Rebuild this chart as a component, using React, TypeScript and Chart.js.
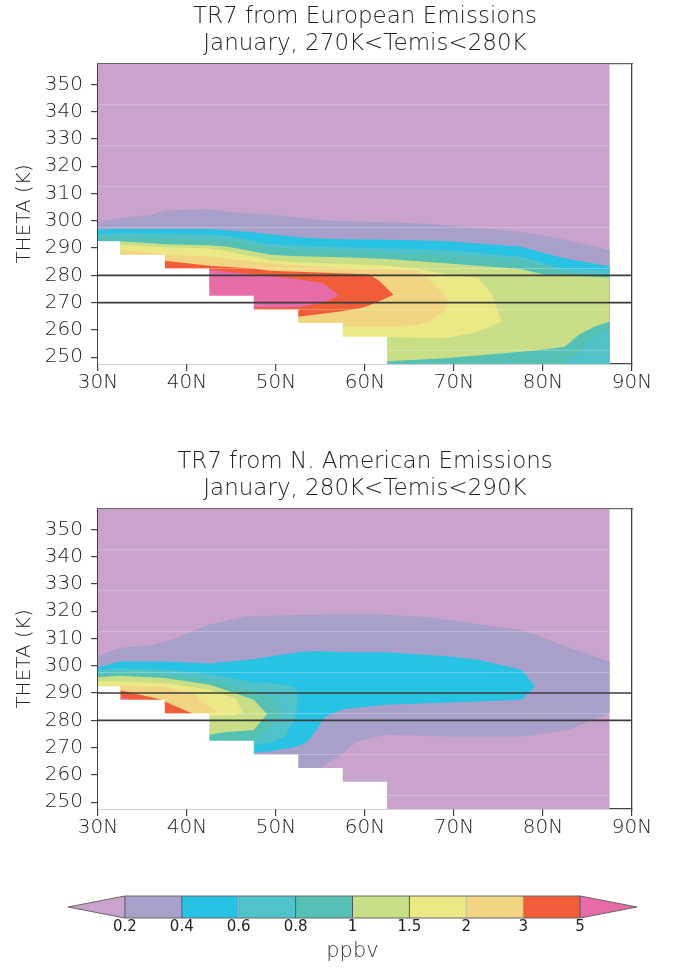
import React, { useEffect, useRef } from 'react';
import { Chart, registerables } from 'chart.js';

Chart.register(...registerables);

const FONT = "'DejaVu Sans ExtraLight', 'DejaVu Sans', sans-serif";

// ---------- axes ----------
const latTicks = [30, 40, 50, 60, 70, 80, 90];
const thetaTicks = [250, 260, 270, 280, 290, 300, 310, 320, 330, 340, 350];
const latMin = 30;
const latMax = 90;
const thetaMin = 247.5;
const thetaMax = 357.5;

// ---------- contour levels ----------
const levelLabels = ['0.2', '0.4', '0.6', '0.8', '1', '1.5', '2', '3', '5'];
const bandColors = ['#C9A3CB', '#A8A0CB', '#28C2E4', '#50C3CA', '#55C1B5', '#C9DF87', '#EBE985', '#F1D583', '#F15D39', '#E66BA7'];
const separatorColors = ['#555', '#555', 'rgba(60,60,60,0.25)', '#555', '#555', '#555', 'rgba(60,60,60,0.25)', 'rgba(60,60,60,0.25)', '#555'];

// ---------- data domain (missing data below the staircase, none beyond 87.5N) ----------
const domainLat = [30, 87.5];
const domainTop = [357.5, 357.5];
const maskLat = [30, 32.5, 32.5, 37.5, 37.5, 42.5, 42.5, 47.5, 47.5, 52.5, 52.5, 57.5, 57.5, 62.5, 62.5];
const maskTheta = [292.5, 292.5, 287.5, 287.5, 282.5, 282.5, 272.5, 272.5, 267.5, 267.5, 262.5, 262.5, 257.5, 257.5, 247.5];
const seamTheta = [252.5, 267.5, 282.5, 297.5, 312.5, 327.5, 342.5];

// ---------- European emissions (270K<Temis<280K) ----------
const euTitle = ['TR7 from European Emissions', 'January, 270K<Temis<280K'];
const euMarks = [280, 270];

const euLat02 = [30, 32.5, 36, 37.5, 42.5, 45.5, 50, 56, 62.5, 67.5, 77.5, 82.5, 87.5];
const euTop02 = [299.7, 300.9, 302.3, 303.8, 304.3, 302.9, 302.0, 300.0, 299.5, 298.8, 296.0, 293.0, 289.3];

const euLat04 = [30, 32.5, 42.5, 46.7, 52.7, 56, 62.5, 69, 77.5, 80.2, 82.4, 87.5];
const euTop04 = [296.8, 297.0, 297.0, 296.0, 294.0, 293.3, 293.0, 292.6, 290.5, 288.1, 286.3, 283.2];

const euLat06 = [30, 32.5, 42.5, 44.6, 49.4, 60.5, 69.3, 77.5, 80.2, 82.4, 87.5];
const euTop06 = [295.1, 295.5, 295.0, 294.5, 291.4, 290.0, 289.3, 286.8, 284.4, 282.2, 281.8];

const euLat08 = [30, 32.5, 37.5, 42.5, 44.6, 49.4, 52.5, 57.5, 60.5, 62.5, 69.5, 77.5, 80.2, 82.4, 83, 84.5, 86, 87.5];
const euTop08 = [293.8, 294.0, 293.7, 293.5, 293.0, 290.0, 289.6, 288.8, 288.2, 288.0, 287.5, 285.5, 283.0, 281.0, 280.8, 280.6, 280.5, 280.5];
const euBot08 = [247.5, 247.5, 247.5, 247.5, 247.5, 247.5, 247.5, 247.5, 247.5, 247.5, 247.5, 247.5, 247.5, 247.5, 249.0, 253.0, 258.0, 260.0];

const euLat10 = [32.5, 37.5, 42.5, 44.6, 49.4, 52.5, 57.5, 60.5, 62.5, 69, 77.5, 80.2, 82.4, 84, 85.8, 87.5];
const euTop10 = [292.5, 291.4, 291.0, 290.5, 287.5, 287.0, 286.6, 286.3, 286.0, 284.4, 282.3, 280.2, 280.2, 279.8, 279.5, 279.2];
const euBot10 = [247.5, 247.5, 247.5, 247.5, 247.5, 247.5, 247.5, 247.5, 248.5, 249.6, 252.0, 252.8, 253.8, 258.1, 261.2, 263.0];

const euLat15 = [32.5, 37.5, 42.5, 44.6, 49.4, 52.5, 57.5, 62.5, 66, 69, 72.7, 74.3, 75.0, 75.3];
const euTop15 = [291.2, 290.3, 289.8, 288.7, 285.5, 284.8, 284.2, 283.5, 282.3, 280.5, 279.0, 272.8, 266.0, 263.0];
const euBot15 = [247.5, 247.5, 247.5, 247.5, 247.5, 247.5, 247.5, 257.3, 257.2, 256.9, 259.3, 261.5, 262.5, 263.0];

const euLat20 = [32.5, 37.5, 42.5, 47.5, 52.5, 57.5, 62.5, 66.1, 67.5, 69.1, 69.3];
const euTop20 = [289.5, 287.7, 286.8, 285.0, 283.6, 282.8, 282.3, 281.8, 277.5, 272.2, 269.8];
const euBot20 = [247.5, 247.5, 247.5, 247.5, 247.5, 261.2, 261.2, 261.8, 263.5, 267.3, 269.8];

const euLat30 = [37.5, 42.5, 47.5, 49.3, 52.5, 57.2, 59.6, 60.5, 61.6, 63.2];
const euTop30 = [285.3, 283.5, 282.5, 281.7, 281.3, 280.8, 280.5, 280.3, 278.0, 272.9];
const euBot30 = [247.5, 247.5, 247.5, 247.5, 264.8, 266.7, 268.0, 269.0, 270.5, 272.9];

const euLat50 = [42.5, 47.4, 47.6, 52.5, 55.3, 57.1];
const euTop50 = [282.0, 280.4, 280.3, 278.6, 277.2, 272.5];
const euBot50 = [247.5, 247.5, 268.2, 268.3, 270.0, 272.5];

// ---------- N. American emissions (280K<Temis<290K) ----------
const naTitle = ['TR7 from N. American Emissions', 'January, 280K<Temis<290K'];
const naMarks = [290, 280];

const naLat02 = [30, 32.4, 35.8, 38.4, 42.4, 46.7, 52.7, 54.6, 55.0, 57.3, 59.2, 62.4, 67.3, 69.5, 77.7, 82.8, 87.5];
const naTop02 = [303.7, 306.5, 307.5, 309.6, 315.1, 318.1, 318.7, 318.7, 318.7, 318.8, 318.8, 318.7, 317.8, 316.8, 313.0, 306.8, 301.6];
const naBot02 = [247.5, 247.5, 247.5, 247.5, 247.5, 247.5, 247.5, 247.5, 262.5, 267.4, 272.3, 274.7, 274.3, 274.1, 274.1, 276.5, 282.7];

const naLat04 = [30, 32.4, 37.7, 42.4, 47.4, 47.6, 49.3, 52.5, 53.6, 54.7, 55.6, 57.5, 62.4, 69.5, 72.7, 77.6, 79.1];
const naTop04 = [299.4, 301.6, 301.6, 300.8, 302.4, 302.5, 303.4, 305.0, 305.2, 305.3, 305.2, 305.0, 305.0, 303.4, 302.2, 298.5, 292.4];
const naBot04 = [247.5, 247.5, 247.5, 247.5, 247.5, 268.2, 268.6, 270.4, 272.3, 277.2, 281.4, 284.1, 285.7, 286.5, 286.9, 287.5, 292.4];

const naLat06 = [30, 32.5, 37.5, 42.5, 47.4, 47.6, 49.3, 51.0, 52.1, 52.5];
const naTop06 = [298.5, 299.1, 298.5, 297.1, 294.0, 293.9, 293.6, 293.0, 292.2, 288.8];
const naBot06 = [247.5, 247.5, 247.5, 247.5, 247.5, 271.0, 271.7, 274.1, 280.2, 288.8];

const naLat08 = [30, 32.5, 37.5, 42.5, 47.4, 47.6, 49.3, 50.8];
const naTop08 = [297.3, 297.9, 297.1, 294.9, 290.8, 290.6, 288.8, 282.0];
const naBot08 = [247.5, 247.5, 247.5, 247.5, 247.5, 273.0, 277.8, 282.0];

const naLat10 = [30, 32.5, 37.5, 42.4, 42.5, 44.0, 47.5, 49.0];
const naTop10 = [295.8, 296.3, 295.5, 293.1, 293.0, 291.5, 287.5, 282.3];
const naBot10 = [247.5, 247.5, 247.5, 247.5, 274.7, 275.5, 276.5, 282.3];

const naLat15 = [30, 32.5, 37.5, 42.4, 42.5, 45.4, 46.3];
const naTop15 = [294.3, 294.3, 293.6, 291.3, 291.2, 288.1, 283.0];
const naBot15 = [247.5, 247.5, 247.5, 247.5, 281.5, 282.0, 283.0];

const naLat20 = [30, 32.5, 37.5, 40.9, 42.4, 42.5, 43.5];
const naTop20 = [292.0, 292.7, 292.2, 289.4, 285.0, 284.8, 283.0];
const naBot20 = [247.5, 247.5, 247.5, 247.5, 247.5, 282.5, 283.0];

const naLat30 = [32.5, 37.2, 37.5, 40.6];
const naTop30 = [291.0, 287.5, 286.9, 282.5];

const naLat50 = [32.5, 33.6];
const naTop50 = [288.6, 287.5];

type Region = { lat: number[]; top: number[]; bot?: number[]; band: number };

const euRegions: Region[] = [
  { lat: domainLat, top: domainTop, band: 0 },
  { lat: euLat02, top: euTop02, band: 1 },
  { lat: euLat04, top: euTop04, band: 2 },
  { lat: euLat06, top: euTop06, band: 3 },
  { lat: euLat08, top: euTop08, bot: euBot08, band: 4 },
  { lat: euLat10, top: euTop10, bot: euBot10, band: 5 },
  { lat: euLat15, top: euTop15, bot: euBot15, band: 6 },
  { lat: euLat20, top: euTop20, bot: euBot20, band: 7 },
  { lat: euLat30, top: euTop30, bot: euBot30, band: 8 },
  { lat: euLat50, top: euTop50, bot: euBot50, band: 9 },
];

const naRegions: Region[] = [
  { lat: domainLat, top: domainTop, band: 0 },
  { lat: naLat02, top: naTop02, bot: naBot02, band: 1 },
  { lat: naLat04, top: naTop04, bot: naBot04, band: 2 },
  { lat: naLat06, top: naTop06, bot: naBot06, band: 3 },
  { lat: naLat08, top: naTop08, bot: naBot08, band: 4 },
  { lat: naLat10, top: naTop10, bot: naBot10, band: 5 },
  { lat: naLat15, top: naTop15, bot: naBot15, band: 6 },
  { lat: naLat20, top: naTop20, bot: naBot20, band: 7 },
  { lat: naLat30, top: naTop30, band: 8 },
  { lat: naLat50, top: naTop50, band: 9 },
];

function pts(xs: number[], ys: number[]) {
  return xs.map((x, i) => ({ x, y: ys[i] }));
}

const hidden = { borderWidth: 0, pointRadius: 0, pointHoverRadius: 0, tension: 0 };

function contourDatasets(regions: Region[], marks: number[]) {
  const ds: any[] = [];
  regions.forEach((r, k) => {
    const order = 100 - k;
    if (r.bot) {
      ds.push({ ...hidden, data: pts(r.lat, r.top), fill: false, order });
      ds.push({ ...hidden, data: pts(r.lat, r.bot), fill: '-1', backgroundColor: bandColors[r.band], order });
    } else {
      ds.push({ ...hidden, data: pts(r.lat, r.top), fill: 'start', backgroundColor: bandColors[r.band], order });
    }
  });
  seamTheta.forEach((t) =>
    ds.push({
      data: [{ x: domainLat[0], y: t }, { x: domainLat[1], y: t }],
      borderColor: 'rgba(255,255,255,0.28)', borderWidth: 1, pointRadius: 0, fill: false, order: 10,
    })
  );
  ds.push({ ...hidden, data: pts(maskLat, maskTheta), fill: 'start', backgroundColor: '#ffffff', order: 9 });
  marks.forEach((t) =>
    ds.push({
      data: [{ x: latMin, y: t }, { x: latMax, y: t }],
      borderColor: '#3c3c3c', borderWidth: 1.6, pointRadius: 0, fill: false, order: 1,
    })
  );
  return ds;
}

function contourConfig(title: string[], regions: Region[], marks: number[]): any {
  const axisColor = '#444';
  return {
    type: 'line',
    data: { datasets: contourDatasets(regions, marks) },
    options: {
      responsive: false,
      maintainAspectRatio: false,
      animation: false,
      events: [],
      layout: { padding: { left: 0, right: 43, top: 0, bottom: 0 } },
      plugins: {
        legend: { display: false },
        tooltip: { enabled: false },
        title: {
          display: true,
          text: title,
          fullSize: false,
          color: '#222',
          font: { family: FONT, size: 23, weight: 200, lineHeight: 1.15 },
          padding: { top: 4, bottom: 7 },
        },
      },
      scales: {
        x: {
          type: 'linear', min: latMin, max: latMax, position: 'bottom', z: 1,
          afterBuildTicks: (s: any) => { s.ticks = latTicks.map((v) => ({ value: v })); },
          ticks: { callback: (v: any) => `${v}N`, color: '#222', font: { family: FONT, size: 20, weight: 200 }, padding: 0, maxRotation: 0, autoSkip: false },
          grid: { drawOnChartArea: false, tickLength: 7, color: axisColor, lineWidth: 1.2 },
          border: { color: axisColor, width: 1.3 },
          afterFit: (s: any) => { s.height = 36; },
        },
        y: {
          type: 'linear', min: thetaMin, max: thetaMax, position: 'left', z: 1,
          afterBuildTicks: (s: any) => { s.ticks = thetaTicks.map((v) => ({ value: v })); },
          ticks: { callback: (v: any) => `${v}`, color: '#222', font: { family: FONT, size: 20, weight: 200 }, padding: 8, autoSkip: false },
          grid: { drawOnChartArea: false, tickLength: 7, color: axisColor, lineWidth: 1.2 },
          border: { color: axisColor, width: 1.3 },
          title: { display: true, text: 'THETA (K)', color: '#222', font: { family: FONT, size: 20, weight: 200 }, padding: { top: 13, bottom: 0 } },
          afterFit: (s: any) => { s.width = 98; },
        },
        xTop: {
          type: 'linear', position: 'top', min: latMin, max: latMax, z: 1,
          ticks: { display: false }, grid: { display: false, drawTicks: false },
          border: { display: true, color: '#666', width: 1.3 },
          afterFit: (s: any) => { s.height = 0; },
        },
        yRight: {
          type: 'linear', position: 'right', min: thetaMin, max: thetaMax, z: 1,
          ticks: { display: false }, grid: { display: false, drawTicks: false },
          border: { display: true, color: axisColor, width: 1.3 },
          afterFit: (s: any) => { s.width = 0; },
        },
      },
    },
  };
}

function colorbarConfig(): any {
  const ds: any[] = [];
  const n = bandColors.length;
  bandColors.forEach((c, i) => {
    const x0 = i - 1;
    const x1 = i;
    let top;
    let bot;
    if (i === 0) {
      top = [{ x: x0, y: 0.5 }, { x: x1, y: 1 }];
      bot = [{ x: x0, y: 0.5 }, { x: x1, y: 0 }];
    } else if (i === n - 1) {
      top = [{ x: x0, y: 1 }, { x: x1, y: 0.5 }];
      bot = [{ x: x0, y: 0 }, { x: x1, y: 0.5 }];
    } else {
      top = [{ x: x0, y: 1 }, { x: x1, y: 1 }];
      bot = [{ x: x0, y: 0 }, { x: x1, y: 0 }];
    }
    ds.push({ ...hidden, data: top, fill: false, order: 50 });
    ds.push({ ...hidden, data: bot, fill: '-1', backgroundColor: c, order: 50 });
  });
  levelLabels.forEach((_, i) => {
    ds.push({
      data: [{ x: i, y: 0 }, { x: i, y: 1 }],
      borderColor: separatorColors[i], borderWidth: 1, pointRadius: 0, fill: false, clip: false, order: 2,
    });
  });
  const last = levelLabels.length - 1;
  ds.push({
    data: [
      { x: -1, y: 0.5 }, { x: 0, y: 1 }, { x: last, y: 1 }, { x: last + 1, y: 0.5 },
      { x: last, y: 0 }, { x: 0, y: 0 }, { x: -1, y: 0.5 },
    ],
    borderColor: '#666', borderWidth: 1, pointRadius: 0, fill: false, clip: false, order: 1,
  });
  return {
    type: 'line',
    data: { datasets: ds },
    options: {
      responsive: false,
      maintainAspectRatio: false,
      animation: false,
      events: [],
      layout: { padding: { left: 68, right: 38, top: 16, bottom: 0 } },
      plugins: { legend: { display: false }, tooltip: { enabled: false } },
      scales: {
        x: {
          type: 'linear', min: -1, max: levelLabels.length,
          afterBuildTicks: (s: any) => { s.ticks = levelLabels.map((_, i) => ({ value: i })); },
          ticks: { callback: (v: any) => levelLabels[Math.round(v)], color: '#222', font: { family: "'DejaVu Sans', sans-serif", size: 15 }, padding: 0, maxRotation: 0, autoSkip: false },
          grid: { display: false, drawTicks: false },
          border: { display: false },
          title: { display: true, text: 'ppbv', color: '#333', font: { family: FONT, size: 21, weight: 200 }, padding: { top: 0, bottom: 5 } },
          afterFit: (s: any) => { s.height = 51; },
        },
        y: { type: 'linear', min: 0, max: 1, display: false },
      },
    },
  };
}

function ChartCanvas({ make, top, height }: { make: () => any; top: number; height: number }) {
  const ref = useRef<HTMLCanvasElement | null>(null);
  useEffect(() => {
    if (!ref.current) return;
    const chart = new Chart(ref.current, make());
    return () => chart.destroy();
  }, []);
  return (
    <canvas
      ref={ref}
      width={675}
      height={height}
      style={{ position: 'absolute', left: 0, top, width: 675, height, display: 'block' }}
    />
  );
}

export default function App() {
  return (
    <div style={{ position: 'absolute', left: 0, top: 0, width: 675, height: 969, background: '#ffffff' }}>
      <ChartCanvas make={() => contourConfig(euTitle, euRegions, euMarks)} top={0} height={400} />
      <ChartCanvas make={() => contourConfig(naTitle, naRegions, naMarks)} top={445} height={400} />
      <ChartCanvas make={colorbarConfig} top={880} height={89} />
    </div>
  );
}
